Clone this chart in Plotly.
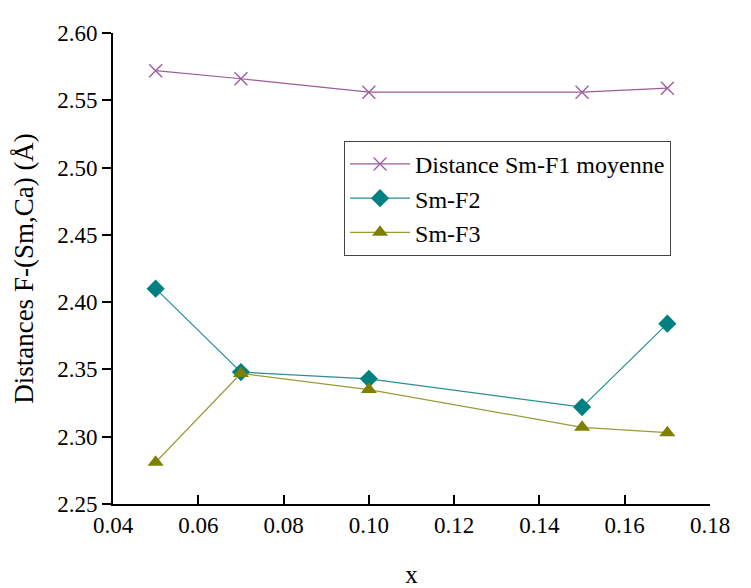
import plotly.graph_objects as go

x_vals = [0.05, 0.07, 0.10, 0.15, 0.17]
sm_f1 = [2.572, 2.566, 2.556, 2.556, 2.559]
sm_f2 = [2.410, 2.348, 2.343, 2.322, 2.384]
sm_f3 = [2.281, 2.347, 2.335, 2.307, 2.303]
names = ["Distance Sm-F1 moyenne", "Sm-F2", "Sm-F3"]

FONT = "Liberation Serif"

fig = go.Figure()
fig.add_trace(go.Scatter(x=x_vals, y=sm_f1, name=names[0], mode="lines+markers",
                         line=dict(color="#9e5a9e", width=1.2),
                         marker=dict(symbol="x-thin", size=13, line=dict(color="#9e5a9e", width=1.3))))
fig.add_trace(go.Scatter(x=x_vals, y=sm_f2, name=names[1], mode="lines+markers",
                         line=dict(color="#2a8f8f", width=1.2),
                         marker=dict(symbol="diamond", size=14, color="#008080")))
fig.add_trace(go.Scatter(x=x_vals, y=sm_f3, name=names[2], mode="lines+markers",
                         line=dict(color="#9a9a3a", width=1.2),
                         marker=dict(symbol="triangle-up", size=14, color="#808000")))

tickfont = dict(family=FONT, size=23, color="black")
LW = 1.6
common = dict(showline=True, linecolor="black", linewidth=LW, showgrid=False,
              zeroline=False, tickcolor="black", tickwidth=LW, tickfont=tickfont)
minor_common = dict(showline=False, showgrid=False, zeroline=False, showticklabels=False,
                    tickcolor="black", tickwidth=LW, ticklen=5)

XR = [0.04, 0.18]
YR = [2.25, 2.60]

fig.update_layout(
    width=751, height=588,
    margin=dict(l=105, r=49, t=25, b=70),
    paper_bgcolor="white", plot_bgcolor="white",
    font=dict(family=FONT, color="black"),
    showlegend=True,
    legend=dict(x=0.387, y=0.771, xanchor="left", yanchor="top",
                bordercolor="#444", borderwidth=1, bgcolor="white",
                font=dict(family=FONT, size=24, color="black"),
                tracegroupgap=0, itemwidth=60),
    xaxis=dict(range=XR, dtick=0.02, tick0=0.04, tickformat=".2f",
               ticks="inside", ticklen=9,
               title=dict(text="x", font=dict(family=FONT, size=25), standoff=28),
               **common),
    xaxis2=dict(range=XR, dtick=0.02, tick0=0.04, overlaying="x", side="top",
                ticks="inside", ticklen=9, showticklabels=False, **common),
    xaxis3=dict(range=XR, dtick=0.01, tick0=0.04, overlaying="x", side="bottom",
                ticks="inside", **minor_common),
    xaxis4=dict(range=XR, dtick=0.01, tick0=0.04, overlaying="x", side="top",
                ticks="inside", **minor_common),
    yaxis=dict(range=YR, dtick=0.05, tick0=2.25, tickformat=".2f",
               ticks="outside", ticklen=9,
               title=dict(text="Distances F-(Sm,Ca) (Å)", font=dict(family=FONT, size=27), standoff=16),
               **common),
    yaxis2=dict(range=YR, dtick=0.05, tick0=2.25, tickformat=".2f", overlaying="y", side="right",
                ticks="inside", ticklen=9, **common),
    yaxis3=dict(range=YR, dtick=0.025, tick0=2.25, overlaying="y", side="left",
                ticks="outside", **minor_common),
    yaxis4=dict(range=YR, dtick=0.025, tick0=2.25, overlaying="y", side="right",
                ticks="inside", **minor_common),
)

fig.write_html("out.html")
